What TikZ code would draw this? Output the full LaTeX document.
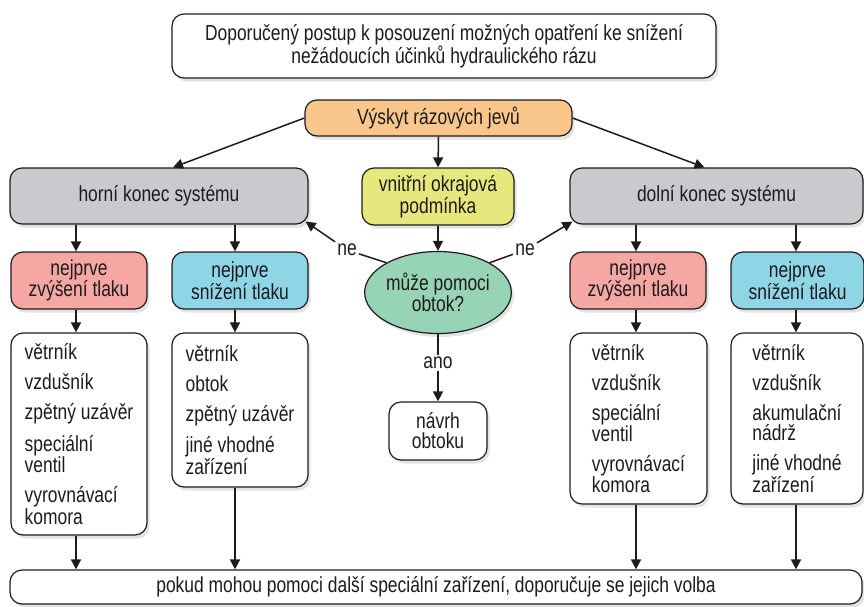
\documentclass[tikz,border=0pt]{standalone}
\usepackage{fontspec}
\setmainfont{Liberation Sans}[FakeStretch=0.80]
\usetikzlibrary{arrows.meta,shapes.geometric,shadows,calc}
\definecolor{cOrange}{RGB}{249,199,140}
\definecolor{cGrey}{RGB}{200,202,205}
\definecolor{cYellow}{RGB}{230,231,125}
\definecolor{cPink}{RGB}{245,167,164}
\definecolor{cBlue}{RGB}{142,213,230}
\definecolor{cGreen}{RGB}{151,211,181}
\definecolor{cLine}{RGB}{30,27,28}
\begin{document}
\begin{tikzpicture}[x=1pt,y=-1pt,
  every node/.style={font=\fontsize{21.8}{20}\selectfont, text=cLine},
  box/.style={draw=cLine, line width=1.2pt, rounded corners=12pt, align=center, inner sep=0pt,
    drop shadow={shadow xshift=2.5pt,shadow yshift=-3.5pt,opacity=0.22}},
  listbox/.style={box, align=left},
  conn/.style={draw=cLine, line width=1.5pt},
  arr/.style={conn, -{Triangle[length=10pt,width=10pt]}},
  lab/.style={inner sep=2pt}
]
\useasboundingbox (0,0) rectangle (864,606);

\node[box, fill=white, minimum width=544pt, minimum height=64pt] (title) at (444,46)
  {Doporučený postup k posouzení možných opatření ke snížení\\ nežádoucích účinků hydraulického rázu};

\node[box, fill=cOrange, minimum width=267pt, minimum height=36pt] (vyskyt) at (438.5,118) {Výskyt rázových jevů};

\node[box, fill=cGrey, minimum width=298pt, minimum height=56pt] (horni) at (159,196) {horní konec systému};
\node[box, fill=cYellow, minimum width=152pt, minimum height=57pt] (vnitrni) at (438,196.5) {vnitřní okrajová\\ podmínka};
\node[box, fill=cGrey, minimum width=293pt, minimum height=56pt] (dolni) at (716.5,196) {dolní konec systému};

\node[box, fill=cPink, minimum width=136pt, minimum height=57pt] (pinkL) at (79,280.5) {nejprve\\ zvýšení tlaku};
\node[box, fill=cBlue, minimum width=136pt, minimum height=57pt] (blueL) at (240,280.5) {nejprve\\ snížení tlaku};
\node[box, fill=cPink, minimum width=136pt, minimum height=57pt] (pinkR) at (638,280.5) {nejprve\\ zvýšení tlaku};
\node[box, fill=cBlue, minimum width=133pt, minimum height=57pt] (blueR) at (797.5,280.5) {nejprve\\ snížení tlaku};

\node[ellipse, draw=cLine, line width=1.2pt, fill=cGreen, minimum width=140pt, minimum height=82pt, inner sep=0pt, align=center,
  drop shadow={shadow xshift=2.5pt,shadow yshift=-3.5pt,opacity=0.22}] (ell) at (438,292.5) {může pomoci\\ obtok?};

\node[box, fill=white, minimum width=98pt, minimum height=58pt] (navrh) at (438,431) {návrh\\ obtoku};

\node[listbox, fill=white, minimum width=136pt, minimum height=202pt] (listL1) at (79,434)
  {větrník\\[10pt] vzdušník\\[10pt] zpětný uzávěr\\[10pt] speciální\\ ventil\\[10pt] vyrovnávací\\ komora};
\node[listbox, fill=white, minimum width=136pt, minimum height=154pt] (listL2) at (240,410)
  {větrník\\[10pt] obtok\\[10pt] zpětný uzávěr\\[10pt] jiné vhodné\\ zařízení};
\node[listbox, fill=white, minimum width=137pt, minimum height=171pt] (listR1) at (638.5,418.5)
  {větrník\\[10pt] vzdušník\\[10pt] speciální\\ ventil\\[10pt] vyrovnávací\\ komora};
\node[listbox, fill=white, minimum width=132pt, minimum height=171pt] (listR2) at (797,418.5)
  {větrník\\[10pt] vzdušník\\[10pt] akumulační\\ nádrž\\[10pt] jiné vhodné\\ zařízení};

\node[box, fill=white, minimum width=852pt, minimum height=34pt] (bottom) at (436,587)
  {pokud mohou pomoci další speciální zařízení, doporučuje se jejich volba};

\node[lab] (neL) at (347,250) {ne};
\node[lab] (neR) at (525,250) {ne};
\node[lab] (ano) at (438,363) {ano};

% connectors
\draw[arr] (vyskyt.west) -- ([xshift=14pt]horni.north);
\draw[arr] (vyskyt.east) -- ([xshift=-12pt]dolni.north);
\draw[arr] (vyskyt.south) -- (vnitrni.north);
\draw[arr] (vnitrni.south) -- (ell.north);
\draw[conn] (ell.150) -- (neL);
\draw[arr] (neL) -- ([shift={(-3pt,3pt)}]horni.south east);
\draw[conn] (ell.30) -- (neR);
\draw[arr] (neR) -- ([shift={(3pt,3pt)}]dolni.south west);
\draw[conn] (ell.south) -- (ano);
\draw[arr] (ano) -- (navrh.north);

\draw[arr] ([xshift=-3pt]pinkL.north |- horni.south) -- ([xshift=-3pt]pinkL.north);
\draw[arr] ([xshift=-5pt]blueL.north |- horni.south) -- ([xshift=-5pt]blueL.north);
\draw[arr] ([xshift=-2pt]pinkR.north |- dolni.south) -- ([xshift=-2pt]pinkR.north);
\draw[arr] ([xshift=-1.5pt]blueR.north |- dolni.south) -- ([xshift=-1.5pt]blueR.north);

\draw[arr] ([xshift=-3pt]pinkL.south) -- ([xshift=-3pt]pinkL.south |- listL1.north);
\draw[arr] ([xshift=-5pt]blueL.south) -- ([xshift=-5pt]blueL.south |- listL2.north);
\draw[arr] ([xshift=-2pt]pinkR.south) -- ([xshift=-2pt]pinkR.south |- listR1.north);
\draw[arr] ([xshift=-1.5pt]blueR.south) -- ([xshift=-1.5pt]blueR.south |- listR2.north);

\draw[arr] ([xshift=-3pt]listL1.south -| pinkL.south) -- ([xshift=-3pt]pinkL.south |- bottom.north);
\draw[arr] ([xshift=-5pt]listL2.south -| blueL.south) -- ([xshift=-5pt]blueL.south |- bottom.north);
\draw[arr] ([xshift=-2pt]listR1.south -| pinkR.south) -- ([xshift=-2pt]pinkR.south |- bottom.north);
\draw[arr] ([xshift=-1.5pt]listR2.south -| blueR.south) -- ([xshift=-1.5pt]blueR.south |- bottom.north);
\end{tikzpicture}
\end{document}
